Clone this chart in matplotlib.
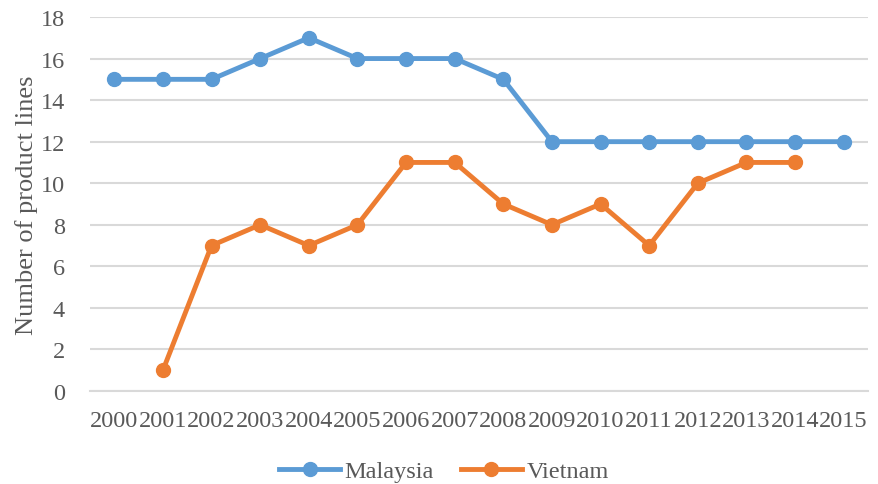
import numpy as np
import matplotlib.pyplot as plt

years = [str(y) for y in range(2000, 2016)]
malaysia = [15, 15, 15, 16, 17, 16, 16, 16, 15, 12, 12, 12, 12, 12, 12, 12]
vietnam_years = [str(y) for y in range(2001, 2015)]
vietnam = [1, 7, 8, 7, 8, 11, 11, 9, 8, 9, 7, 10, 11, 11]

blue = '#5B9BD5'
orange = '#ED7D31'
text_color = '#595959'
grid_color = '#D9D9D9'

plt.rcParams['font.family'] = ['Liberation Serif', 'DejaVu Serif']

fig = plt.figure(figsize=(8.79, 4.85), dpi=100)
ax = fig.add_axes([90 / 879, 93 / 485, 778 / 879, 374 / 485])

x_pos = np.arange(len(years))
vx_pos = [years.index(y) for y in vietnam_years]

ax.plot(x_pos, malaysia, color=blue, lw=3.5, marker='o', ms=10, label='Malaysia', zorder=3)
ax.plot(vx_pos, vietnam, color=orange, lw=3.5, marker='o', ms=10, label='Vietnam', zorder=3)

ax.set_xlim(-0.5, len(years) - 0.5)
ax.set_ylim(0, 18)
ax.set_yticks(range(0, 19, 2))
ax.set_xticks(x_pos)
ax.set_xticklabels(years)
ax.yaxis.grid(True, color=grid_color, lw=1.5)
ax.set_axisbelow(True)
for side in ['top', 'right', 'left']:
    ax.spines[side].set_visible(False)
ax.spines['bottom'].set_color(grid_color)
ax.spines['bottom'].set_linewidth(1.5)
ax.tick_params(axis='both', length=0, labelsize=17.5, labelcolor=text_color)
ax.tick_params(axis='x', pad=14)
ax.tick_params(axis='y', pad=18)
ax.set_ylabel('Number of product lines', fontsize=19, color=text_color, labelpad=2)

leg = fig.legend(loc='center', bbox_to_anchor=(444 / 879, 1 - 472 / 485), ncol=2,
                 frameon=False, fontsize=17.5, handlelength=2.5, handletextpad=0.2,
                 columnspacing=1.1, labelcolor=text_color)

fig.savefig('out.png', dpi=100)
